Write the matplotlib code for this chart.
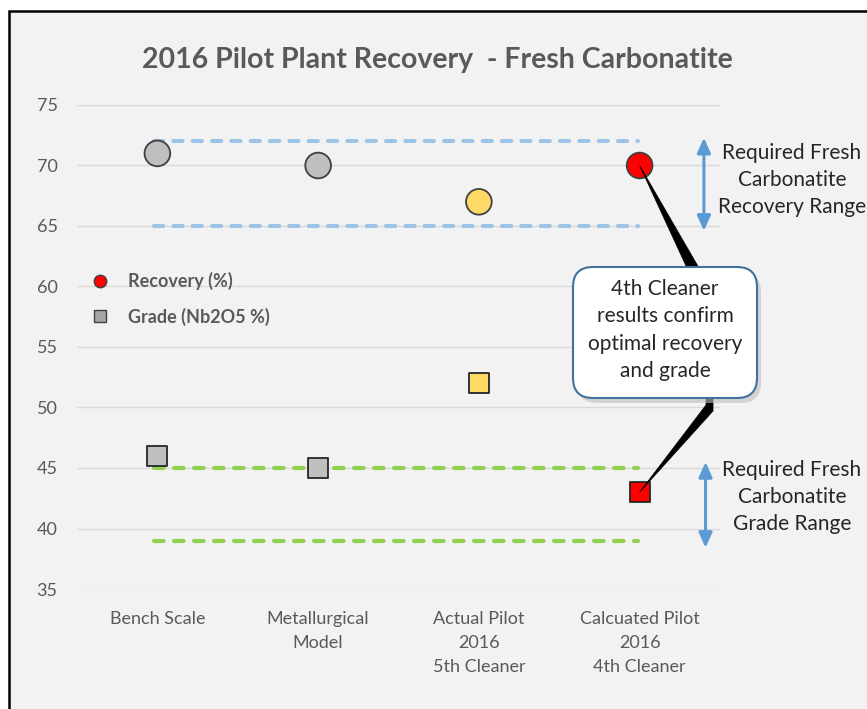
import numpy as np
import matplotlib
matplotlib.use('Agg')
import matplotlib.pyplot as plt
from matplotlib.patches import Rectangle, FancyBboxPatch, Polygon
from matplotlib.lines import Line2D
import matplotlib.transforms as mtransforms

plt.rcParams['font.family'] = ['Lato', 'DejaVu Sans']

categories = ['Bench Scale', 'Metallurgical\nModel', 'Actual Pilot\n2016\n5th Cleaner',
              'Calcuated Pilot\n2016\n4th Cleaner']
recovery = [71, 70, 67, 70]
grade = [46, 45, 52, 43]
point_colors = ['#BFBFBF', '#BFBFBF', '#FFD966', '#FF0000']

recovery_range = [65, 72]
grade_range = [39, 45]

W, H = 867, 709
fig = plt.figure(figsize=(W / 100, H / 100), dpi=100)
fig.patch.set_facecolor('white')

# chart area with black border (top and left visible)
bg = Rectangle((8.5 / W, -0.02), 1.2, (H - 10.5) / H + 0.02, transform=fig.transFigure,
               facecolor='#F2F2F2', edgecolor='black', linewidth=1.8, zorder=-5)
fig.patches.append(bg)

ax = fig.add_axes([77 / W, 1 - 589 / H, (720 - 77) / W, (589 - 105) / H])
ax.set_facecolor('none')
ax.set_zorder(1)
x = np.arange(len(categories))

ax.set_xlim(-0.5, 3.5)
ax.set_ylim(35, 75)
ax.set_yticks(range(35, 76, 5))
ax.set_xticks(x)
ax.set_xticklabels(categories, linespacing=1.62)
ax.tick_params(length=0, labelsize=13, labelcolor='#595959')
ax.tick_params(axis='x', pad=16)
ax.tick_params(axis='y', pad=14)
for s in ax.spines.values():
    s.set_visible(False)
ax.grid(axis='y', color='#D9D9D9', linewidth=1)
ax.set_axisbelow(True)

# required range lines
for r in recovery_range:
    ax.plot([-0.02, 2.99], [r, r], color='#9DC3E6', lw=2.9, ls=(0, (2.3, 2.5)),
            dash_capstyle='round', zorder=2)
for g in grade_range:
    ax.plot([-0.02, 2.99], [g, g], color='#92D050', lw=3.0, ls=(0, (2.3, 2.5)),
            dash_capstyle='round', zorder=2)

ax.scatter(x, recovery, s=18.5 ** 2, marker='o', c=point_colors, edgecolors='#404040',
           linewidths=1.3, zorder=4)
ax.scatter(x, grade, s=14.5 ** 2, marker='s', c=point_colors, edgecolors='#262626',
           linewidths=1.3, zorder=4)

# double arrows for ranges
arrow_kw = dict(arrowstyle='<|-|>,head_length=0.9,head_width=0.4', color='#5B9BD5', lw=2.2,
                shrinkA=0, shrinkB=0)
ax.annotate('', xy=(3.4, 64.6), xytext=(3.4, 72.3), arrowprops=arrow_kw, annotation_clip=False)
ax.annotate('', xy=(3.41, 38.4), xytext=(3.41, 45.5), arrowprops=arrow_kw, annotation_clip=False)

fig.text(792 / W, 1 - 180 / H, 'Required Fresh\nCarbonatite\nRecovery Range',
         ha='center', va='center', fontsize=15, color='#262626', linespacing=1.45)
fig.text(792 / W, 1 - 497 / H, 'Required Fresh\nCarbonatite\nGrade Range',
         ha='center', va='center', fontsize=15, color='#262626', linespacing=1.45)

# legend
handles = [Line2D([], [], marker='o', ls='none', color='#FF0000', markeredgecolor='#404040',
                  markersize=9),
           Line2D([], [], marker='s', ls='none', color='#A6A6A6', markeredgecolor='#404040',
                  markersize=9)]
leg = ax.legend(handles, ['Recovery (%)', 'Grade (Nb2O5 %)'], loc='upper left',
                bbox_to_anchor=(73 / W, 1 - 256 / H), bbox_transform=fig.transFigure,
                frameon=False, handletextpad=0.95, labelspacing=0.95, handlelength=1.2,
                prop={'weight': 'bold', 'size': 13})
for t in leg.get_texts():
    t.set_color('#595959')

# callout box with wedges
ident = mtransforms.IdentityTransform()
fig.canvas.draw()
tip1 = ax.transData.transform((x[3], recovery[3]))
tip2 = ax.transData.transform((x[3], grade[3]))
wedge1 = Polygon([tip1, (687, H - 268), (699, H - 268)], closed=True, transform=ident,
                 facecolor='black', edgecolor='black', lw=0.5, zorder=6)
wedge2 = Polygon([(706, H - 396), (713, H - 396), (713, H - 411), tip2, (706, H - 405)],
                 closed=True, transform=ident, facecolor='black', edgecolor='black', lw=0.5, zorder=6)
fig.patches.extend([wedge1, wedge2])

bx0, by0, bw, bh = 573, 267, 184, 131
shadow = FancyBboxPatch((bx0 + 4, H - by0 - bh - 5), bw, bh, boxstyle='round,pad=0,rounding_size=20',
                        transform=ident, facecolor='#BFBFBF', edgecolor='none', alpha=0.6, zorder=7)
box = FancyBboxPatch((bx0, H - by0 - bh), bw, bh, boxstyle='round,pad=0,rounding_size=20',
                     transform=ident, facecolor='white', edgecolor='#41719C', lw=1.5, zorder=8)
fig.patches.extend([shadow, box])
fig.text((bx0 + bw / 2) / W, 1 - 330 / H, '4th Cleaner\nresults confirm\noptimal recovery\nand grade',
         ha='center', va='center', fontsize=15, color='#262626', linespacing=1.45, zorder=9)

fig.text(437 / W, 1 - 60 / H, '2016 Pilot Plant Recovery  - Fresh Carbonatite', ha='center',
         va='center', fontsize=20.5, fontweight='bold', color='#595959')

fig.savefig('out.png', dpi=100)
